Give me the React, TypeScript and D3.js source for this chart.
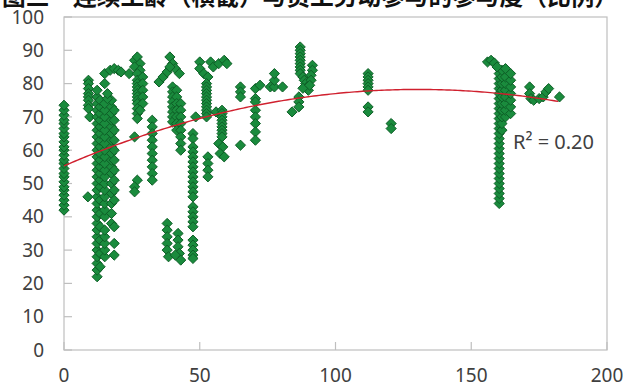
import React, { useEffect, useRef } from 'react';
import * as d3 from 'd3';

type Pt = [number, number];

// x = 0 column
const colZero: Pt[] = [
  [0, 42], [0, 43.5], [0, 45], [0, 46.5], [0, 48], [0, 49], [0, 50.5], [0, 52], [0, 53], [0, 54.5],
  [0, 56], [0, 57], [0, 58.5], [0, 60], [0, 61], [0, 62.5], [0, 64], [0, 65], [0, 66.5], [0, 68],
  [0, 69], [0, 70.5], [0, 72], [0, 73.5],
];

// x 8..22
const bandTen: Pt[] = [
  [9, 81], [9, 80], [9, 78.5], [9, 77], [9, 76], [9, 75], [9, 73.5], [9, 72.5], [9.5, 70], [8.8, 46],
  [12.2, 22], [12.2, 24], [12.2, 26], [12.2, 28], [12.2, 30], [12.2, 32], [12.2, 34], [12.2, 36], [12.2, 38],
  [12.2, 40], [12.2, 42], [12.2, 44], [12.2, 46], [12.2, 48], [12.2, 50], [12.2, 52], [12.2, 54], [12.2, 56],
  [12.2, 58], [12.2, 60], [12.2, 62], [12.2, 64], [12.2, 66], [12.2, 68], [12.2, 70], [12.2, 72], [12.2, 74],
  [12.2, 76], [12.2, 78],
  [13.3, 25], [13.3, 29], [13.3, 33], [13.3, 37], [13.3, 41], [13.3, 45], [13.3, 49], [13.3, 51], [13.3, 53],
  [13.3, 55], [13.3, 57], [13.3, 59], [13.3, 61], [13.3, 63], [13.3, 65], [13.3, 67], [13.3, 69], [13.3, 71],
  [13.3, 73], [13.3, 75],
  [15, 28], [15, 30], [15, 32], [15, 34], [15, 36], [15, 40], [15, 42], [15, 44], [15, 46], [15, 48],
  [15, 50], [15, 52], [15, 54], [15, 56], [15, 58], [15, 60], [15, 62], [15, 64], [15, 66], [15, 68],
  [15, 70], [15, 72], [15, 74], [15, 80], [15, 83],
  [17.5, 38], [17.5, 41], [17.5, 44], [17.5, 47], [17.5, 50], [17.5, 53], [17.5, 55], [17.5, 57], [17.5, 59],
  [17.5, 61], [17.5, 63], [17.5, 65], [17.5, 67], [17.5, 69], [17.5, 71], [17.5, 73], [17.5, 75],
  [18.5, 28.5], [18.5, 32], [18.5, 37], [18.5, 45], [18.5, 48], [18.5, 51], [18.5, 54], [18.5, 57], [18.5, 60],
  [18.5, 63], [18.5, 66], [18.5, 69], [18.5, 72],
  [16, 75.5], [16, 77], [17, 84], [18.5, 84.5], [20, 84], [21, 83.5],
];

// x 24..44
const bandThirty: Pt[] = [
  [24, 83], [26, 87], [27, 88], [28, 86], [26, 85], [28, 84], [27, 83], [27, 81], [27, 80], [27, 79],
  [27, 78], [27, 77], [27, 76], [27, 75], [27, 74], [27, 72.5], [27, 71], [27, 69.5], [29, 82], [29, 80],
  [29, 78], [29, 76], [29, 74], [28, 72], [26, 64], [27, 51], [26, 49], [26, 47.5],
  [32.5, 69], [32.5, 67], [32.5, 65], [32.5, 63], [32.5, 61], [32.5, 59], [32.5, 57], [32.5, 55], [32.5, 53],
  [32.5, 51], [35, 80.5], [36.5, 82], [38, 83.5],
  [39, 88], [40, 86], [41, 84.5], [42.5, 83], [39, 85],
  [40, 79], [40, 77.5], [40, 76], [40, 74.5], [40, 73], [40, 71.5], [40, 70], [40, 68.5],
  [41.5, 78], [41.5, 76], [41.5, 74], [41.5, 72], [41.5, 70], [41.5, 68], [41.5, 66],
  [43, 74], [43, 72], [43, 70], [43, 68], [43, 66], [43, 64], [43, 62], [43, 60],
  [38, 38], [38, 36], [38, 34], [38, 32], [38, 30], [38.5, 28], [42, 35], [42, 33], [42, 31], [42.5, 29],
  [43, 27], [41, 28.5],
];

// x 46..62
const bandFifty: Pt[] = [
  [47.5, 65], [47.5, 63.5], [47.5, 61], [47.5, 59.5], [47.5, 58], [47.5, 56.5], [47.5, 55], [47.5, 53.5],
  [47.5, 52], [47.5, 50.5], [47.5, 49], [47.5, 47.5], [47.5, 46], [47.5, 43], [47.5, 41.5], [47.5, 40],
  [47.5, 38.5], [47.5, 37], [47.5, 33], [47.5, 31.5], [47.5, 30], [47.5, 28.5], [47.5, 27.5],
  [48.5, 70], [50, 86.5], [50, 84.5], [51.5, 83], [53, 82], [54, 86.5], [55, 85],
  [52.5, 80], [52.5, 79], [52.5, 78], [52.5, 77], [52.5, 76], [52.5, 75], [52.5, 74], [52.5, 73], [52.5, 72],
  [52.5, 71], [52.5, 70], [53, 58], [53, 56], [53, 54], [53, 52],
  [57, 86], [59, 87], [60, 86], [56, 71.5],
  [58.2, 72], [58.2, 71], [58.2, 70], [58.2, 69], [58.2, 68], [58.2, 67], [58.2, 66], [58.2, 65], [58.2, 64],
  [57, 62], [58.5, 61], [57.5, 59], [59, 58],
];

// x 64..125
const bandMid: Pt[] = [
  [65, 79], [65, 77.5], [65, 76], [65, 61.5],
  [70.5, 78.5], [70.5, 75.5], [70.5, 74.5], [70.5, 72], [70.5, 70], [70.5, 68], [70.5, 65.5], [70.5, 63],
  [72.2, 79.5],
  [76, 79], [77.5, 79], [77.5, 81], [77.5, 83], [80.5, 79],
  [84, 71.5], [86.5, 76], [86.5, 74.5], [86.5, 73], [87, 91], [87, 90], [87, 89], [87, 88], [87, 87],
  [87, 86], [87, 85], [87, 84], [87, 83], [88, 82], [88.5, 81], [89, 80], [89.5, 79], [90, 78], [88, 78.6],
  [91.5, 85.5], [91.5, 84], [91, 82.5], [91, 81], [90.5, 79.5],
  [112, 83], [112, 82], [112, 81], [112, 80], [112, 79], [112, 78], [112, 73], [112, 71.5],
  [120.5, 68], [120.5, 66.5],
];

// x 155..183
const bandRight: Pt[] = [
  [160.3, 44], [160.3, 45.5], [160.3, 47], [160.3, 48.5], [160.3, 50], [160.3, 51.5], [160.3, 53],
  [160.3, 54.5], [160.3, 56], [160.3, 57.5], [160.3, 59], [160.3, 60.5], [160.3, 62], [160.3, 63.5],
  [160.3, 65], [160.3, 66.5], [160.3, 68], [160.3, 69.5], [160.3, 71], [160.3, 72.5], [160.3, 74],
  [160.3, 75.5], [160.3, 77], [160.3, 78.5], [160.3, 80], [160.3, 81.5], [160.3, 83],
  [161.3, 66], [161.3, 68], [161.3, 70], [161.3, 72], [161.3, 74], [161.3, 76], [161.3, 78], [161.3, 80],
  [161.3, 82], [161.3, 84],
  [162.6, 70], [162.6, 72], [162.6, 74], [162.6, 76], [162.6, 78], [162.6, 80], [162.6, 82], [162.6, 84.5],
  [164.5, 71], [164.5, 73], [164.5, 75], [164.5, 77], [164.5, 79], [164.5, 81], [164.5, 83],
  [156, 86.5], [157.3, 87], [158.5, 86.2], [159.5, 85],
  [171.5, 79], [171.5, 77], [172, 75.5], [173, 75], [175, 75.5], [176.5, 76], [177.5, 77.5], [178.5, 78.5],
  [182.5, 76],
];

const allPoints: Pt[] = [...colZero, ...bandTen, ...bandThirty, ...bandFifty, ...bandMid, ...bandRight];

const xTicks = [0, 50, 100, 150, 200];
const yTicks = [0, 10, 20, 30, 40, 50, 60, 70, 80, 90, 100];

// polynomial (order 2) trendline
const trendA = 55.3;
const trendB = 0.352;
const trendC = -0.00135;
const trendFrom = 0;
const trendTo = 182.5;
const r2Label = 'R² = 0.20';
const title = '图三　连续工龄（横截）与员工劳动参与的参与度（比例）';

const W = 623;
const H = 387;

export default function App() {
  const ref = useRef<SVGSVGElement>(null);

  useEffect(() => {
    if (!ref.current) return;
    const svg = d3.select(ref.current);
    svg.selectAll('*').remove();

    const x = d3.scaleLinear().domain([0, 200]).range([64, 607]);
    const y = d3.scaleLinear().domain([0, 100]).range([350, 17]);
    const font = '"Noto Sans", "DejaVu Sans", sans-serif';

    svg.append('rect').attr('width', W).attr('height', H).attr('fill', '#fff');

    // title (cut by the top edge like the source)
    svg.append('text')
      .attr('x', 2).attr('y', 5)
      .attr('textLength', 616)
      .attr('lengthAdjust', 'spacingAndGlyphs')
      .attr('font-family', '"Noto Sans CJK SC", sans-serif')
      .attr('font-weight', 'bold')
      .attr('font-size', 24)
      .attr('fill', '#111')
      .text(title);

    // plot border
    svg.append('rect')
      .attr('x', x(0)).attr('y', y(100))
      .attr('width', x(200) - x(0)).attr('height', y(0) - y(100))
      .attr('fill', 'none').attr('stroke', '#bfbfbf').attr('stroke-width', 1.2);

    // inside ticks
    svg.append('g').selectAll('line').data(yTicks).enter().append('line')
      .attr('x1', x(0)).attr('x2', x(0) + 8)
      .attr('y1', d => y(d)).attr('y2', d => y(d))
      .attr('stroke', '#bfbfbf').attr('stroke-width', 1.2);
    svg.append('g').selectAll('line').data(xTicks).enter().append('line')
      .attr('x1', d => x(d)).attr('x2', d => x(d))
      .attr('y1', y(0)).attr('y2', y(0) - 8)
      .attr('stroke', '#bfbfbf').attr('stroke-width', 1.2);

    svg.append('g').selectAll('text').data(yTicks).enter().append('text')
      .attr('x', 44).attr('y', d => y(d)).attr('dy', '0.35em')
      .attr('text-anchor', 'end')
      .attr('font-family', font).attr('font-size', 19).attr('fill', '#404040')
      .text(d => d);
    svg.append('g').selectAll('text').data(xTicks).enter().append('text')
      .attr('x', d => x(d)).attr('y', 382)
      .attr('text-anchor', 'middle')
      .attr('font-family', font).attr('font-size', 19).attr('fill', '#404040')
      .text(d => d);

    // markers
    const diamond = d3.symbol().type(d3.symbolDiamond2).size(66);
    svg.append('g').selectAll('path').data(allPoints).enter().append('path')
      .attr('transform', d => `translate(${x(d[0])},${y(d[1])})`)
      .attr('d', diamond())
      .attr('fill', '#1a8b3d')
      .attr('stroke', '#0e5f27')
      .attr('stroke-width', 1)
      .attr('stroke-linejoin', 'round');

    // trendline
    const xs = d3.range(trendFrom, trendTo + 0.01, 1);
    const line = d3.line<number>()
      .x(d => x(d))
      .y(d => y(trendA + trendB * d + trendC * d * d));
    svg.append('path')
      .attr('d', line(xs) || '')
      .attr('fill', 'none')
      .attr('stroke', '#d0202e')
      .attr('stroke-width', 1.4);

    svg.append('text')
      .attr('x', 513).attr('y', 149)
      .attr('font-family', font).attr('font-size', 20).attr('fill', '#404040')
      .text(r2Label);
  }, []);

  return (
    <svg
      ref={ref}
      width={W}
      height={H}
      style={{ position: 'absolute', left: 0, top: 0, display: 'block' }}
    />
  );
}
